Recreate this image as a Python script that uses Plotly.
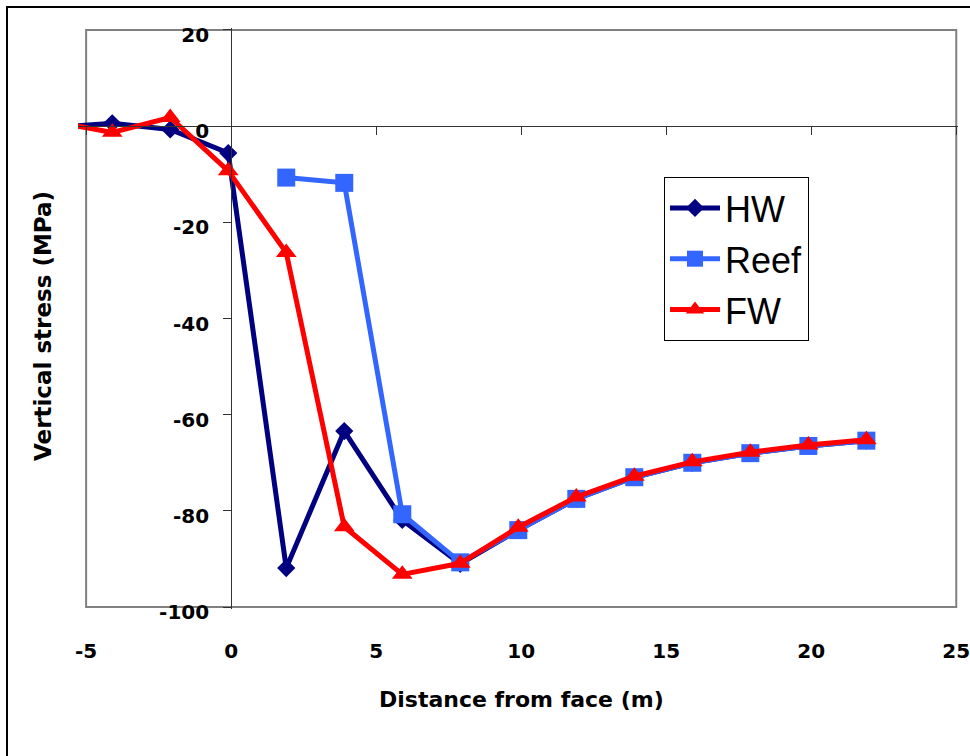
import plotly.graph_objects as go

# Data
hw_x = [-6.1, -4.1, -2.1, -0.1, 1.9, 3.9, 5.9, 7.9, 9.9, 11.9, 13.9, 15.9, 17.9, 19.9, 21.9]
hw_y = [-0.25, 0.6, -0.7, -5.6, -91.9, -63.4, -81.9, -91.0, -84.0, -77.5, -73.0, -70.0, -68.0, -66.5, -65.4]

reef_x = [1.9, 3.9, 5.9, 7.9, 9.9, 11.9, 13.9, 15.9, 17.9, 19.9, 21.9]
reef_y = [-10.7, -11.8, -80.7, -90.7, -84.0, -77.5, -73.0, -70.0, -68.0, -66.5, -65.4]

fw_x = [-6.1, -4.1, -2.1, -0.1, 1.9, 3.9, 5.9, 7.9, 9.9, 11.9, 13.9, 15.9, 17.9, 19.9, 21.9]
fw_y = [0.9, -1.3, 1.8, -9.3, -26.3, -83.3, -93.2, -90.9, -83.4, -77.1, -72.8, -69.8, -67.8, -66.3, -65.2]

x_ticks = [-5, 0, 5, 10, 15, 20, 25]
y_ticks = [-100, -80, -60, -40, -20, 0, 20]

XR = [-5.28, 25.06]
YR = [-100.4, 20.4]
L, R, T, B = 78, 12, 28, 147
W, H = 970, 756
pw, ph = W - L - R, H - T - B

bold = dict(family="DejaVu Sans", size=20, color="black", weight="bold")
axcol = "#333333"

fig = go.Figure()
fig.add_trace(go.Scatter(x=hw_x, y=hw_y, name="HW", mode="lines+markers",
                         line=dict(color="#000080", width=5),
                         marker=dict(symbol="diamond", size=14, color="#000080"),
                         legendgroup="a"))
fig.add_trace(go.Scatter(x=reef_x, y=reef_y, name="Reef", mode="lines+markers",
                         line=dict(color="#3366FF", width=5),
                         marker=dict(symbol="square", size=18, color="#3366FF"),
                         legendgroup="b"))
fig.add_trace(go.Scatter(x=fw_x, y=fw_y, name="FW", mode="lines+markers",
                         line=dict(color="#FF0000", width=5),
                         marker=dict(symbol="triangle-up", size=18, color="#FF0000"),
                         legendgroup="c"))
# carrier for the crossing x-axis at y=0
fig.add_trace(go.Scatter(x=[], y=[], xaxis="x2", showlegend=False, hoverinfo="skip"))

fig.update_layout(
    width=W, height=H,
    margin=dict(l=L, r=R, t=T, b=B, autoexpand=False),
    paper_bgcolor="white", plot_bgcolor="white",
    showlegend=True,
    legend=dict(x=(664 - L) / pw, y=(H - B - 177) / ph, xanchor="left", yanchor="top",
                bgcolor="white", bordercolor="black", borderwidth=1,
                font=dict(family="Liberation Sans", size=36, color="black"),
                tracegroupgap=1, itemwidth=50),
    xaxis=dict(range=XR, tickvals=x_ticks, ticktext=[str(v) for v in x_ticks],
               showline=False, showgrid=False, zeroline=False, ticks="",
               tickfont=bold, ticklabelstandoff=28, ticklabeloverflow="allow",
               automargin=False),
    xaxis2=dict(range=XR, overlaying="x", anchor="free",
                position=(0 - YR[0]) / (YR[1] - YR[0]),
                tickvals=x_ticks, showticklabels=False, showgrid=False, zeroline=False,
                showline=True, linecolor=axcol, linewidth=1,
                ticks="outside", ticklen=8, tickcolor=axcol, tickwidth=1),
    yaxis=dict(range=YR, tickvals=y_ticks, ticktext=[str(v) for v in y_ticks],
               anchor="free", position=(0 - XR[0]) / (XR[1] - XR[0]),
               showline=True, linecolor=axcol, linewidth=1, showgrid=False, zeroline=False,
               ticks="outside", ticklen=8, tickcolor=axcol, tickwidth=1,
               tickfont=bold, ticklabelstandoff=10, ticklabelshift=5),
    shapes=[
        dict(type="rect", xref="x", yref="y", x0=-5, x1=25, y0=-100, y1=20,
             line=dict(color="#808080", width=2), layer="below"),
        dict(type="rect", xref="paper", yref="paper",
             x0=(7 - L) / pw, x1=(W + 20 - L) / pw,
             y0=(H - B - 7) / ph, y1=(H - B - (H + 20)) / ph,
             line=dict(color="black", width=2)),
    ],
    annotations=[
        dict(text="Distance from face (m)", xref="x", yref="paper", x=10, y=0,
             yanchor="middle", yshift=-(699 - (H - B)), showarrow=False,
             font=dict(family="DejaVu Sans", size=22, color="black", weight="bold")),
        dict(text="Vertical stress (MPa)", xref="paper", yref="y", x=0, y=-40,
             xanchor="center", xshift=42.5 - L, yshift=-8, textangle=-90, showarrow=False,
             font=dict(family="DejaVu Sans", size=23, color="black", weight="bold")),
    ],
)

fig.write_html("out.html")
